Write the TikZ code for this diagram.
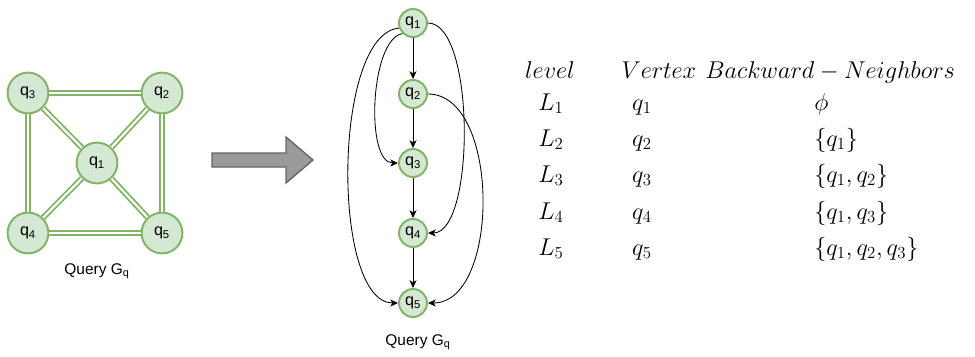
\documentclass[tikz,border=0pt]{standalone}
\usepackage{fontspec}
\setmainfont{Liberation Sans}
\usetikzlibrary{arrows.meta}

\definecolor{vfill}{HTML}{D5E8D4}
\definecolor{vline}{HTML}{82B366}
\definecolor{bfill}{HTML}{9A9A9A}
\definecolor{bline}{HTML}{666666}

\begin{document}
\begin{tikzpicture}[x=0.025cm, y=-0.025cm,
    vtx/.style={circle, draw=vline, fill=vfill, line width=1.4pt, inner sep=0pt,
        font=\fontsize{11.5}{13}\selectfont},
    bigvtx/.style={vtx, minimum size=1.02cm},
    smallvtx/.style={vtx, minimum size=0.7cm},
    und/.style={draw=vline, line width=1.3pt, double=white, double distance=1.5pt},
    arr/.style={-{Stealth[length=5.5pt, width=5pt, inset=1.5pt]}, line width=0.6pt},
    lbl/.style={font=\fontsize{11}{13}\selectfont},
    cell/.style={font=\fontsize{17.5}{20}\selectfont, inner sep=0pt}]
    \useasboundingbox (0,0) rectangle (975,356);

    % Undirected query graph
    \node[bigvtx] (a3) at (28,93) {q\textsubscript{3}};
    \node[bigvtx] (a2) at (162,93) {q\textsubscript{2}};
    \node[bigvtx] (a1) at (97,163) {q\textsubscript{1}};
    \node[bigvtx] (a4) at (28,233) {q\textsubscript{4}};
    \node[bigvtx] (a5) at (162,233) {q\textsubscript{5}};
    \node[lbl] (alabel) at (97,271) {Query G\textsubscript{q}};

    \draw[und] (a3) -- (a2);
    \draw[und] (a3) -- (a4);
    \draw[und] (a2) -- (a5);
    \draw[und] (a4) -- (a5);
    \draw[und] (a1) -- (a2);
    \draw[und] (a1) -- (a3);
    \draw[und] (a1) -- (a4);
    \draw[und] (a1) -- (a5);

    % Block arrow
    \draw[fill=bfill, draw=bline, line width=1pt]
        (212,153) -- (286,153) -- (286,137) -- (313,160) -- (286,183)
        -- (286,167) -- (212,167) -- cycle;

    % Ordered query graph
    \node[smallvtx] (m1) at (413,23) {q\textsubscript{1}};
    \node[smallvtx] (m2) at (413,94) {q\textsubscript{2}};
    \node[smallvtx] (m3) at (413,163) {q\textsubscript{3}};
    \node[smallvtx] (m4) at (413,233) {q\textsubscript{4}};
    \node[smallvtx] (m5) at (413,303) {q\textsubscript{5}};
    \node[lbl] (mlabel) at (418,342) {Query G\textsubscript{q}};

    \draw[arr] (m1) -- (m2);
    \draw[arr] (m2) -- (m3);
    \draw[arr] (m3) -- (m4);
    \draw[arr] (m4) -- (m5);
    \draw[arr] (m1.200) to[out=185, in=180, looseness=0.62] (m5.west);
    \draw[arr] (m1.225) to[out=190, in=180, looseness=0.65] (m3.west);
    \draw[arr] (m1.east) to[out=0, in=0, looseness=0.58] (m4.east);
    \draw[arr] (m2.east) to[out=0, in=0, looseness=0.89] (m5.east);

    % Column headers
    \node[cell, anchor=base] (hlevel) at (550,78) {$level$};
    \node[cell, anchor=base] (hvertex) at (659,78) {$Vertex$};
    \node[cell, anchor=base west] (hback) at (705,78) {$Backward-Neighbors$};

    % Level column
    \node[cell, anchor=base] (l1) at (551,110) {$L_1$};
    \node[cell, anchor=base] (l2) at (551,146) {$L_2$};
    \node[cell, anchor=base] (l3) at (551,182) {$L_3$};
    \node[cell, anchor=base] (l4) at (551,219) {$L_4$};
    \node[cell, anchor=base] (l5) at (551,255) {$L_5$};

    % Vertex column
    \node[cell, anchor=base] (v1) at (642,110) {$q_1$};
    \node[cell, anchor=base] (v2) at (642,146) {$q_2$};
    \node[cell, anchor=base] (v3) at (642,182) {$q_3$};
    \node[cell, anchor=base] (v4) at (642,219) {$q_4$};
    \node[cell, anchor=base] (v5) at (642,255) {$q_5$};

    % Backward neighbors column
    \node[cell, anchor=base west] (b1) at (814,110) {$\phi$};
    \node[cell, anchor=base west] (b2) at (814,146) {$\{q_1\}$};
    \node[cell, anchor=base west] (b3) at (814,182) {$\{q_1,q_2\}$};
    \node[cell, anchor=base west] (b4) at (814,219) {$\{q_1,q_3\}$};
    \node[cell, anchor=base west] (b5) at (814,255) {$\{q_1,q_2,q_3\}$};
\end{tikzpicture}
\end{document}
